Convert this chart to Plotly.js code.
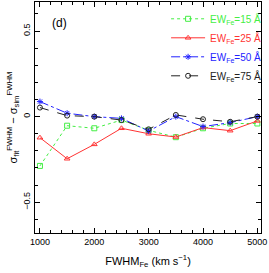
<!DOCTYPE html>
<html><head><meta charset="utf-8">
<script src="https://cdn.plot.ly/plotly-3.0.1.min.js"></script>
<style>html,body{margin:0;padding:0;background:#fff}#plot{width:269px;height:273px}</style>
</head><body><div id="plot"></div>
<script>
const fwhm = [1000,1500,2000,2500,3000,3500,4000,4500,5000];
const ew15 = [-0.288,-0.053,-0.068,-0.02,-0.08,-0.12,-0.068,-0.04,-0.04];
const ew25 = [-0.123,-0.246,-0.162,-0.068,-0.10,-0.119,-0.064,-0.082,-0.025];
const ew50 = [0.088,0.02,0.0,-0.01,-0.084,0.0,-0.058,-0.035,0.0];
const ew75 = [0.053,0.006,0.0,-0.02,-0.074,0.01,-0.015,-0.03,0.0];
const names = ['15','25','50','75'];
const colors = ['#44ee44','#ff3333','#2222ff','#222222'];
const dashes = ['dot','solid','dashdot','dash'];
const symbols = ['square-open','triangle-up-open','asterisk-open','circle-open'];
const series = [ew15, ew25, ew50, ew75];
const traces = series.map((ys,i)=>({
  x: fwhm, y: ys, type:'scatter', mode:'lines+markers',
  name: '<span style="color:'+colors[i]+'">EW<sub>Fe</sub>='+names[i]+' Å</span>',
  line:{color:colors[i], dash:dashes[i], width:1},
  marker:{symbol:symbols[i], size:5, color:colors[i], line:{width:1,color:colors[i]}}
}));
const font = {family:'Liberation Sans, Arial, sans-serif', size:10, color:'#000'};
const layout = {
  width:269, height:273,
  margin:{l:35, r:6, t:2, b:40},
  paper_bgcolor:'#fff', plot_bgcolor:'#fff',
  font: font,
  showlegend:true,
  legend:{x:0.58, y:0.99, xanchor:'left', yanchor:'top', bgcolor:'rgba(0,0,0,0)',
    font:{family:'Liberation Sans, Arial, sans-serif', size:10}, tracegroupgap:0, itemwidth:34},
  xaxis:{range:[909,5067], tickvals:[1000,2000,3000,4000,5000], ticktext:['1000','2000','3000','4000','5000'],
    ticks:'inside', ticklen:5, tickwidth:1, tickcolor:'#000', mirror:'ticks', showline:true, linecolor:'#000', linewidth:1,
    showgrid:false, zeroline:false, ticklabeloverflow:'allow',
    minor:{dtick:200, tick0:1000, ticks:'inside', ticklen:3, tickcolor:'#000', showgrid:false},
    tickfont:{size:9},
    title:{text:'FWHM<sub>Fe</sub> (km s<sup>−1</sup>)', font:{size:11}, standoff:11}},
  yaxis:{range:[-0.68,0.67], tickvals:[-0.5,0,0.5], ticktext:['−0.5','0','0.5'], tickangle:-90,
    ticks:'inside', ticklen:5, tickwidth:1, tickcolor:'#000', mirror:'ticks', showline:true, linecolor:'#000', linewidth:1,
    showgrid:false, zeroline:false, ticklabeloverflow:'allow',
    minor:{dtick:0.1, tick0:0, ticks:'inside', ticklen:3, tickcolor:'#000', showgrid:false},
    tickfont:{size:9},
    title:{text:'σ<sub>fit</sub><sup>FWHM</sup> − σ<sub>sim</sub><sup>FWHM</sup>', font:{size:11}, standoff:2}},
  annotations:[{text:'(d)', xref:'paper', yref:'paper', x:0.066, y:0.91, xanchor:'left', yanchor:'middle', showarrow:false, font:{size:12}}]
};
Plotly.newPlot('plot', traces, layout, {staticPlot:true, displayModeBar:false});
</script></body></html>
